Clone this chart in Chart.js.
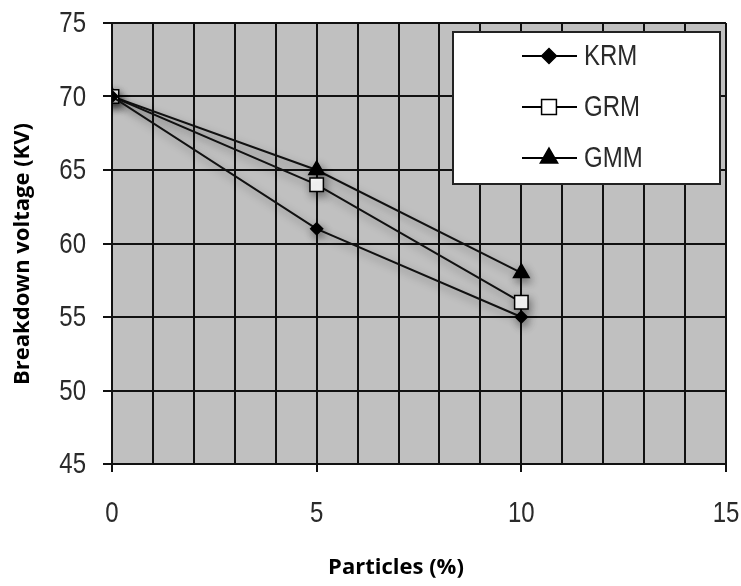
<!DOCTYPE html>
<html>
<head>
<meta charset="utf-8">
<script src="https://cdn.jsdelivr.net/npm/chart.js@4.4.1/dist/chart.umd.min.js"></script>
<style>
  html, body { margin: 0; padding: 0; background: #fff; }
  #wrap { width: 741px; height: 586px; position: relative; }
</style>
</head>
<body>
<div id="wrap"><canvas id="graphique"></canvas></div>
<script>
// Données
const particules = [0, 5, 10];
const krm = [70, 61, 55];
const grm = [70, 64, 56];
const gmm = [70, 65, 58];
const series = ["KRM", "GRM", "GMM"];
const xTicks = [0, 5, 10, 15];
const yTicks = [45, 50, 55, 60, 65, 70, 75];
const xTitre = "Particles (%)";
const yTitre = "Breakdown voltage (KV)";

// Police type "Arial Narrow" : Liberation Sans compressée horizontalement
const narrowFont = "30px 'Liberation Sans', Arial, sans-serif";
const narrowScale = 0.8;
const texteCouleur = "#2a2a2a";
const titreFont = "bold 22px 'Open Sans', 'Noto Sans', sans-serif";

function points(values) {
  return values.map((v, i) => ({ x: particules[i], y: v }));
}

function texteEtroit(ctx, text, x, y, align) {
  ctx.save();
  ctx.translate(x, y);
  ctx.scale(narrowScale, 1);
  ctx.font = narrowFont;
  ctx.fillStyle = texteCouleur;
  ctx.textAlign = align;
  ctx.textBaseline = "middle";
  ctx.fillText(text, 0, 0);
  ctx.restore();
}

// Fond gris de la zone de tracé + ombre des courbes
const fondGris = {
  id: "fondGris",
  beforeDraw(chart) {
    const { ctx, chartArea: a } = chart;
    ctx.save();
    ctx.fillStyle = "#c0c0c0";
    ctx.fillRect(a.left, a.top, a.right - a.left, a.bottom - a.top);
    ctx.restore();
  },
  beforeDatasetsDraw(chart) {
    const ctx = chart.ctx;
    ctx.save();
    ctx.shadowColor = "rgba(0,0,0,0.4)";
    ctx.shadowBlur = 8;
    ctx.shadowOffsetX = 2;
    ctx.shadowOffsetY = 4;
  },
  afterDatasetsDraw(chart) {
    chart.ctx.restore();
  },
};

// Étiquettes des graduations et titres des axes
const etiquettes = {
  id: "etiquettes",
  afterDraw(chart) {
    const ctx = chart.ctx;
    const sx = chart.scales.x;
    const sy = chart.scales.y;
    yTicks.forEach((v) => {
      texteEtroit(ctx, String(v), 86, sy.getPixelForValue(v) + 1, "right");
    });
    xTicks.forEach((v) => {
      texteEtroit(ctx, String(v), sx.getPixelForValue(v), 514, "center");
    });
    ctx.save();
    ctx.font = titreFont;
    ctx.fillStyle = "#000";
    ctx.textAlign = "center";
    ctx.textBaseline = "middle";
    ctx.fillText(xTitre, 396, 568);
    ctx.translate(23, 254);
    ctx.rotate(-Math.PI / 2);
    ctx.fillText(yTitre, 0, 0);
    ctx.restore();
  },
};

// Légende encadrée dans la zone de tracé
const tailleLegende = [7.5, 10.5, 10];
const legendeBoite = {
  id: "legendeBoite",
  afterDraw(chart) {
    const ctx = chart.ctx;
    ctx.save();
    ctx.fillStyle = "#fff";
    ctx.fillRect(453, 32, 267, 152);
    ctx.strokeStyle = "#222";
    ctx.lineWidth = 2;
    ctx.strokeRect(453, 32, 267, 152);
    chart.data.datasets.forEach((ds, i) => {
      const y = 56 + i * 51;
      ctx.strokeStyle = "#000";
      ctx.lineWidth = 2;
      ctx.beginPath();
      ctx.moveTo(522, y);
      ctx.lineTo(577, y);
      ctx.stroke();
      ctx.fillStyle = ds.pointBackgroundColor;
      ctx.strokeStyle = "#000";
      ctx.lineWidth = 1.5;
      Chart.helpers.drawPoint(ctx, {
        pointStyle: ds.pointStyle,
        radius: tailleLegende[i],
        rotation: 0,
        borderWidth: 1.5,
      }, 549, y);
      texteEtroit(ctx, ds.label, 584, y + 1, "left");
    });
    ctx.restore();
  },
};

const dataSets = [
  { label: series[0], data: points(krm), pointStyle: "rectRot", pointRadius: 6, pointBackgroundColor: "#000" },
  { label: series[1], data: points(grm), pointStyle: "rect", pointRadius: 9.5, pointBackgroundColor: "#fff" },
  { label: series[2], data: points(gmm), pointStyle: "triangle", pointRadius: 9, pointBackgroundColor: "#000" },
].map((d) => ({
  ...d,
  borderColor: "#111",
  borderWidth: 2,
  pointBorderColor: "#000",
  pointBorderWidth: 1.5,
  showLine: true,
  fill: false,
  tension: 0,
}));

const config = {
  type: "scatter",
  data: { datasets: dataSets },
  options: {
    responsive: true,
    maintainAspectRatio: false,
    animation: false,
    layout: { padding: { left: 0, right: 15, top: 23, bottom: 0 } },
    plugins: { legend: { display: false }, tooltip: { enabled: false } },
    scales: {
      x: {
        type: "linear",
        min: 0,
        max: 15,
        afterBuildTicks(axis) {
          const t = [];
          for (let v = 0; v <= 15; v++) t.push({ value: v });
          axis.ticks = t;
        },
        afterFit(axis) { axis.height = 122; },
        grid: {
          color: "#111",
          lineWidth: 2,
          tickLength: 8,
          tickColor: (c) => (c.tick && c.tick.value % 5 === 0 ? "#111" : "rgba(0,0,0,0)"),
        },
        border: { color: "#111", width: 2 },
        ticks: { display: false },
      },
      y: {
        type: "linear",
        min: 45,
        max: 75,
        afterBuildTicks(axis) {
          axis.ticks = yTicks.map((v) => ({ value: v }));
        },
        afterFit(axis) { axis.width = 112; },
        grid: { color: "#111", lineWidth: 2, tickLength: 9, tickColor: "#111" },
        border: { color: "#111", width: 2 },
        ticks: { display: false },
      },
    },
  },
  plugins: [fondGris, etiquettes, legendeBoite],
};

new Chart(document.querySelector("#graphique"), config);
</script>
</body>
</html>
